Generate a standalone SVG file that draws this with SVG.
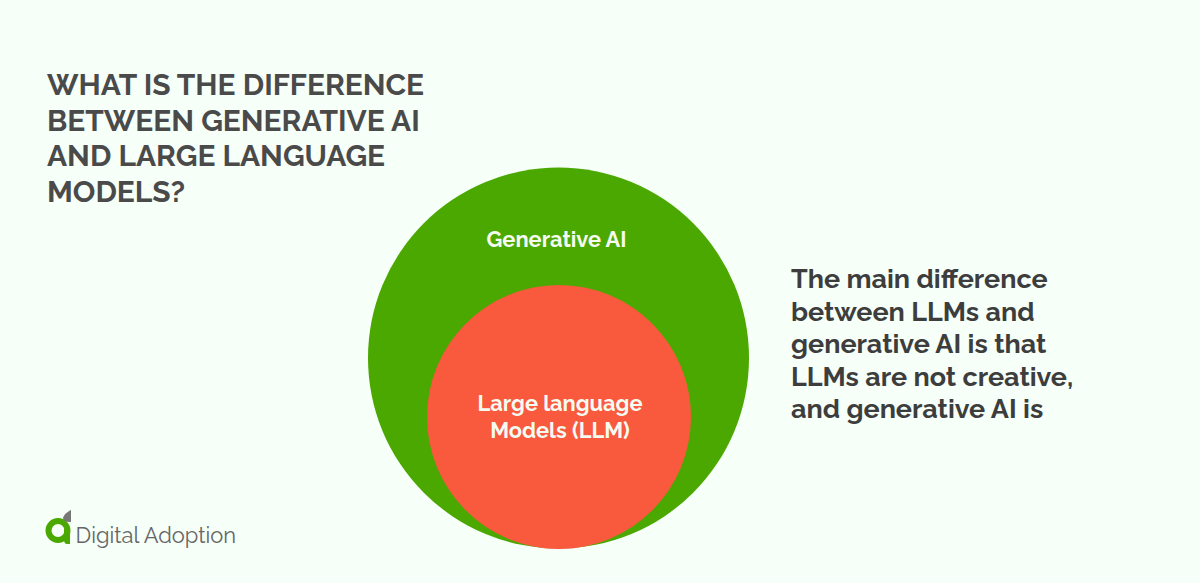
<svg xmlns="http://www.w3.org/2000/svg" width="1200" height="583" viewBox="0 0 1200 583">
<style>
text{font-family:Raleway,Inter,"Noto Sans","Liberation Sans",sans-serif}
.h{font-size:29.900px;font-weight:700;fill:#4a4a4a}
.b{font-size:26.900px;font-weight:700;fill:#3d3d3d}
.l{font-size:21.800px;font-weight:700;fill:#f6fbf2;text-anchor:middle}
</style>
<rect width="1200" height="583" fill="#f6fff8"/>
<g id="title"><text class="h" x="47" y="95">WHAT IS THE DIFFERENCE</text><text class="h" x="47" y="131">BETWEEN GENERATIVE AI</text><text class="h" x="47" y="166">AND LARGE LANGUAGE</text><text class="h" x="47" y="202">MODELS?</text></g>
<g id="generative-ai"><circle cx="558.500" cy="358" r="190.500" fill="#4ba800"/><text class="l" x="556.500" y="247">Generative AI</text></g>
<g id="llm"><circle cx="559" cy="417" r="132" fill="#f9593d"/><text class="l" x="560" y="411">Large language</text><text class="l" x="560" y="438">Models (LLM)</text></g>
<g id="description"><text class="b" x="791" y="288">The main difference</text><text class="b" x="791" y="321">between LLMs and</text><text class="b" x="791" y="353">generative AI is that</text><text class="b" x="791" y="386">LLMs are not creative,</text><text class="b" x="791" y="418">and generative AI is</text></g>
<g id="logo"><circle cx="58" cy="530.500" r="9.500" fill="none" stroke="#4ba800" stroke-width="6"/><path d="M64 529h6v15h-3c-2 0-3-2-3-4z" fill="#4ba800"/><path d="M71 510v12h-2c-3 0-5-1-6-3 0-4 4-7 8-9z" fill="#777"/><text x="75.500" y="543" font-size="21.900" fill="#666">Digital Adoption</text></g>
</svg>
